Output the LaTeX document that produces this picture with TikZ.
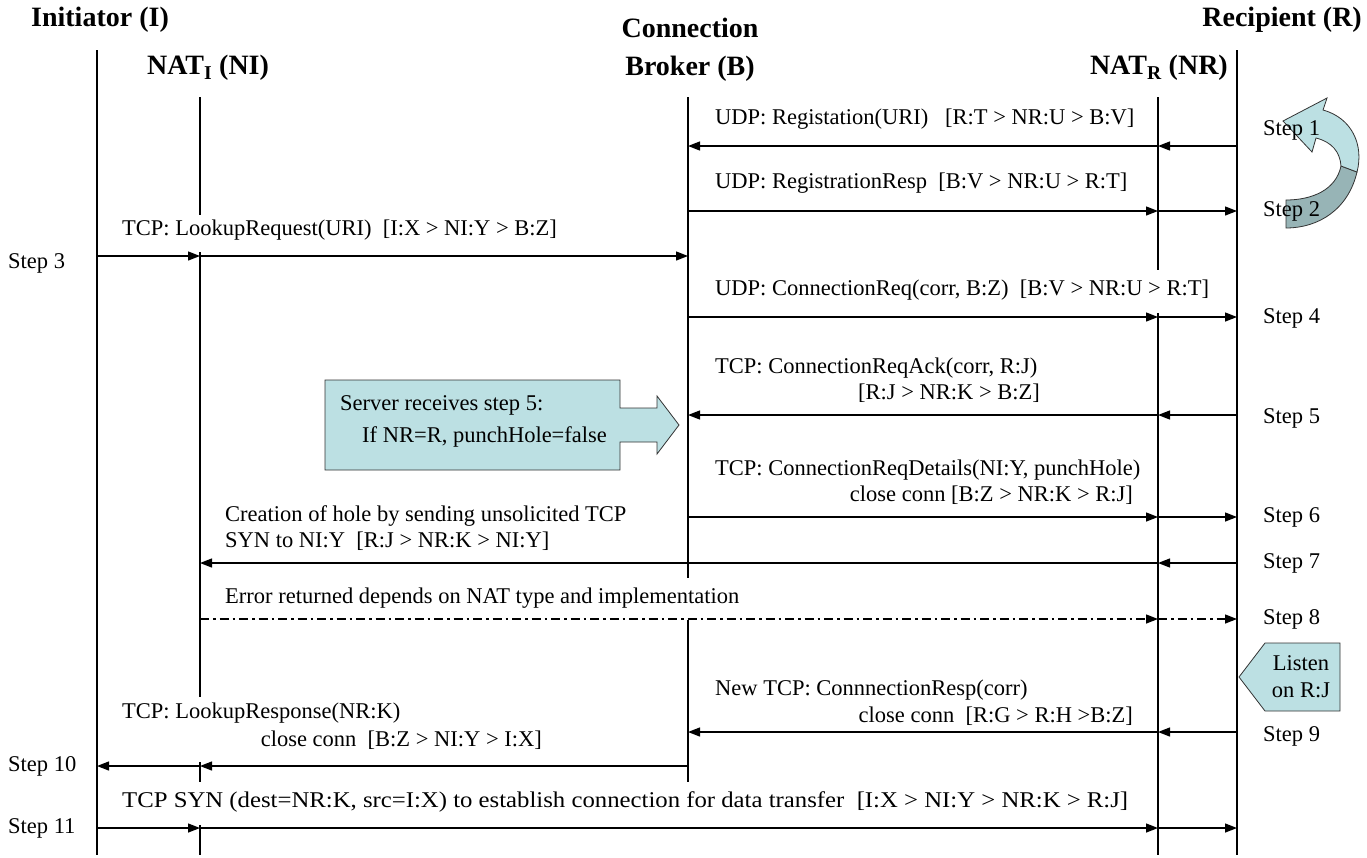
\documentclass[tikz,border=0pt]{standalone}
\usepackage{fontspec}
\usepackage{graphicx}
\setmainfont{Liberation Serif}
\usetikzlibrary{arrows.meta}
\definecolor{calloutfill}{HTML}{BCE0E3}
\definecolor{calloutdark}{HTML}{97B4B6}
\newcommand\rowat[2]{%
  \coordinate (I#1) at (97,#2);
  \coordinate (NI#1) at (200,#2);
  \coordinate (B#1) at (688,#2);
  \coordinate (NR#1) at (1158,#2);
  \coordinate (R#1) at (1237,#2);}
\begin{document}
\begin{tikzpicture}[x=1pt,y=-1pt,
  life/.style={line width=1.3pt},
  msg/.style={line width=1.3pt,-{Triangle[length=12pt,width=9pt]}},
  ddmsg/.style={msg, dash pattern=on 9pt off 4pt on 2.5pt off 4pt},
  lbl/.style={inner sep=0pt, anchor=west, font=\fontsize{22.5}{27}\selectfont},
  titlelbl/.style={inner sep=0pt, font=\fontsize{28}{38}\selectfont\bfseries},
  callout/.style={draw=black!80, fill=calloutfill, line width=0.8pt},
  calloutb/.style={draw=black!80, fill=calloutdark, line width=0.8pt}]
\fill[white] (0,0) rectangle (1367,857);
\useasboundingbox (0,0) rectangle (1367,857);

% titles
\node[titlelbl] (tI) at (100,20) {Initiator (I)};
\node[titlelbl] (tNI) at (208,68) {NAT\textsubscript{I} (NI)};
\node[titlelbl, align=center] (tB) at (690,50) {Connection\\Broker (B)};
\node[titlelbl, anchor=east] (tNR) at (1228,68) {NAT\textsubscript{R} (NR)};
\node[titlelbl, anchor=east] (tR) at (1362,20) {Recipient (R)};

% lifeline end points
\coordinate (Itop) at (97,50);   \coordinate (Ibot) at (97,855);
\coordinate (NItop) at (200,97); \coordinate (NIg1) at (200,215);
\coordinate (NIg2) at (200,252); \coordinate (NIg3) at (200,697);
\coordinate (NIg4) at (200,762); \coordinate (NIg5) at (200,782);
\coordinate (NIg6) at (200,825); \coordinate (NIbot) at (200,855);
\coordinate (Btop) at (688,97);  \coordinate (Bg1) at (688,578);
\coordinate (Bg2) at (688,620);  \coordinate (Bbot) at (688,782);
\coordinate (NRtop) at (1158,97); \coordinate (NRg1) at (1158,270);
\coordinate (NRg2) at (1158,313); \coordinate (NRbot) at (1158,855);
\coordinate (Rtop) at (1237,50); \coordinate (Rbot) at (1237,855);

\draw[life] (Itop) -- (Ibot);
\draw[life] (NItop) -- (NIg1) (NIg2) -- (NIg3) (NIg4) -- (NIg5) (NIg6) -- (NIbot);
\draw[life] (Btop) -- (Bg1) (Bg2) -- (Bbot);
\draw[life] (NRtop) -- (NRg1) (NRg2) -- (NRbot);
\draw[life] (Rtop) -- (Rbot);

% rows
\rowat{1}{146}\rowat{2}{211}\rowat{3}{256}\rowat{4}{317}\rowat{5}{415}
\rowat{6}{517}\rowat{7}{563}\rowat{8}{619}\rowat{9}{732}\rowat{10}{766}\rowat{11}{828}

\draw[msg] (R1) -- (NR1);  \draw[msg] (NR1) -- (B1);
\draw[msg] (B2) -- (NR2);  \draw[msg] (NR2) -- (R2);
\draw[msg] (I3) -- (NI3);  \draw[msg] (NI3) -- (B3);
\draw[msg] (B4) -- (NR4);  \draw[msg] (NR4) -- (R4);
\draw[msg] (R5) -- (NR5);  \draw[msg] (NR5) -- (B5);
\draw[msg] (B6) -- (NR6);  \draw[msg] (NR6) -- (R6);
\draw[msg] (R7) -- (NR7);  \draw[msg] (NR7) -- (NI7);
\draw[ddmsg] (NI8) -- (NR8); \draw[ddmsg] (NR8) -- (R8);
\draw[msg] (R9) -- (NR9);  \draw[msg] (NR9) -- (B9);
\draw[msg] (B10) -- (NI10); \draw[msg] (NI10) -- (I10);
\draw[msg] (I11) -- (NI11); \draw[msg] (NI11) -- (NR11); \draw[msg] (NR11) -- (R11);

% message labels
\node[lbl] (m1) at (715,119) {UDP: Registation(URI)\ \ \ [R:T > NR:U > B:V]};
\node[lbl] (m2) at (715,183) {UDP: RegistrationResp\ \ [B:V > NR:U > R:T]};
\node[lbl] (m3) at (122,230) {TCP: LookupRequest(URI)\ \ [I:X > NI:Y > B:Z]};
\node[lbl] (m4) at (715,290) {UDP: ConnectionReq(corr, B:Z)\ \ [B:V > NR:U > R:T]};
\node[lbl] (m5a) at (715,368) {TCP: ConnectionReqAck(corr, R:J)};
\node[lbl] (m5b) at (858,393) {[R:J > NR:K > B:Z]};
\node[lbl] (m6a) at (715,470) {TCP: ConnectionReqDetails(NI:Y, punchHole)};
\node[lbl, anchor=east] (m6b) at (1133,495) {close conn [B:Z > NR:K > R:J]};
\node[lbl] (m7a) at (225,516) {Creation of hole by sending unsolicited TCP};
\node[lbl] (m7b) at (225,541) {SYN to NI:Y\ \ [R:J > NR:K > NI:Y]};
\node[lbl] (m8) at (225,598) {Error returned depends on NAT type and implementation};
\node[lbl] (m9a) at (715,690) {New TCP: ConnnectionResp(corr)};
\node[lbl, anchor=east] (m9b) at (1133,716) {close conn\ \ [R:G > R:H >B:Z]};
\node[lbl] (m10a) at (122,713) {TCP: LookupResponse(NR:K)};
\node[lbl, anchor=east] (m10b) at (542,740) {close conn\ \ [B:Z > NI:Y > I:X]};
\node[lbl] (m11) at (122,802) {\scalebox{1.1}[1]{TCP SYN (dest=NR:K, src=I:X) to establish connection for data transfer\ \ [I:X > NI:Y > NR:K > R:J]}};

% server callout
\draw[callout] (325,380) -- (620,380) -- (620,408) -- (657,408) -- (657,396) -- (679,425)
  -- (657,454) -- (657,442) -- (620,442) -- (620,470) -- (325,470) -- cycle;
\node[lbl] (cs1) at (340,405) {Server receives step 5:};
\node[lbl] (cs2) at (362,437) {If NR=R, punchHole=false};

% listen callout
\draw[callout] (1239,677) -- (1265,643) -- (1340,643) -- (1340,711) -- (1265,711) -- cycle;
\node[lbl, anchor=center] (ls1) at (1301,663) {Listen};
\node[lbl, anchor=center] (ls2) at (1301,690) {on R:J};

% curved U-turn arrow
\draw[calloutb] (1357,172) .. controls (1348,210) and (1318,228) .. (1286,228)
  -- (1286,200) .. controls (1312,200) and (1336,190) .. (1341,166) -- cycle;
\draw[callout] (1323,110) .. controls (1352,118) and (1364,145) .. (1357,172)
  -- (1341,166) .. controls (1340,152) and (1332,142) .. (1316,138)
  -- (1312,152) -- (1283,121) -- (1327,98) -- cycle;

% step labels
\node[lbl] (s1) at (1263,130) {Step 1};
\node[lbl] (s2) at (1263,211) {Step 2};
\node[lbl] (s3) at (8,263) {Step 3};
\node[lbl] (s4) at (1263,318) {Step 4};
\node[lbl] (s5) at (1263,418) {Step 5};
\node[lbl] (s6) at (1263,517) {Step 6};
\node[lbl] (s7) at (1263,563) {Step 7};
\node[lbl] (s8) at (1263,619) {Step 8};
\node[lbl] (s9) at (1263,736) {Step 9};
\node[lbl] (s10) at (8,766) {Step 10};
\node[lbl] (s11) at (8,828) {Step 11};
\end{tikzpicture}
\end{document}
